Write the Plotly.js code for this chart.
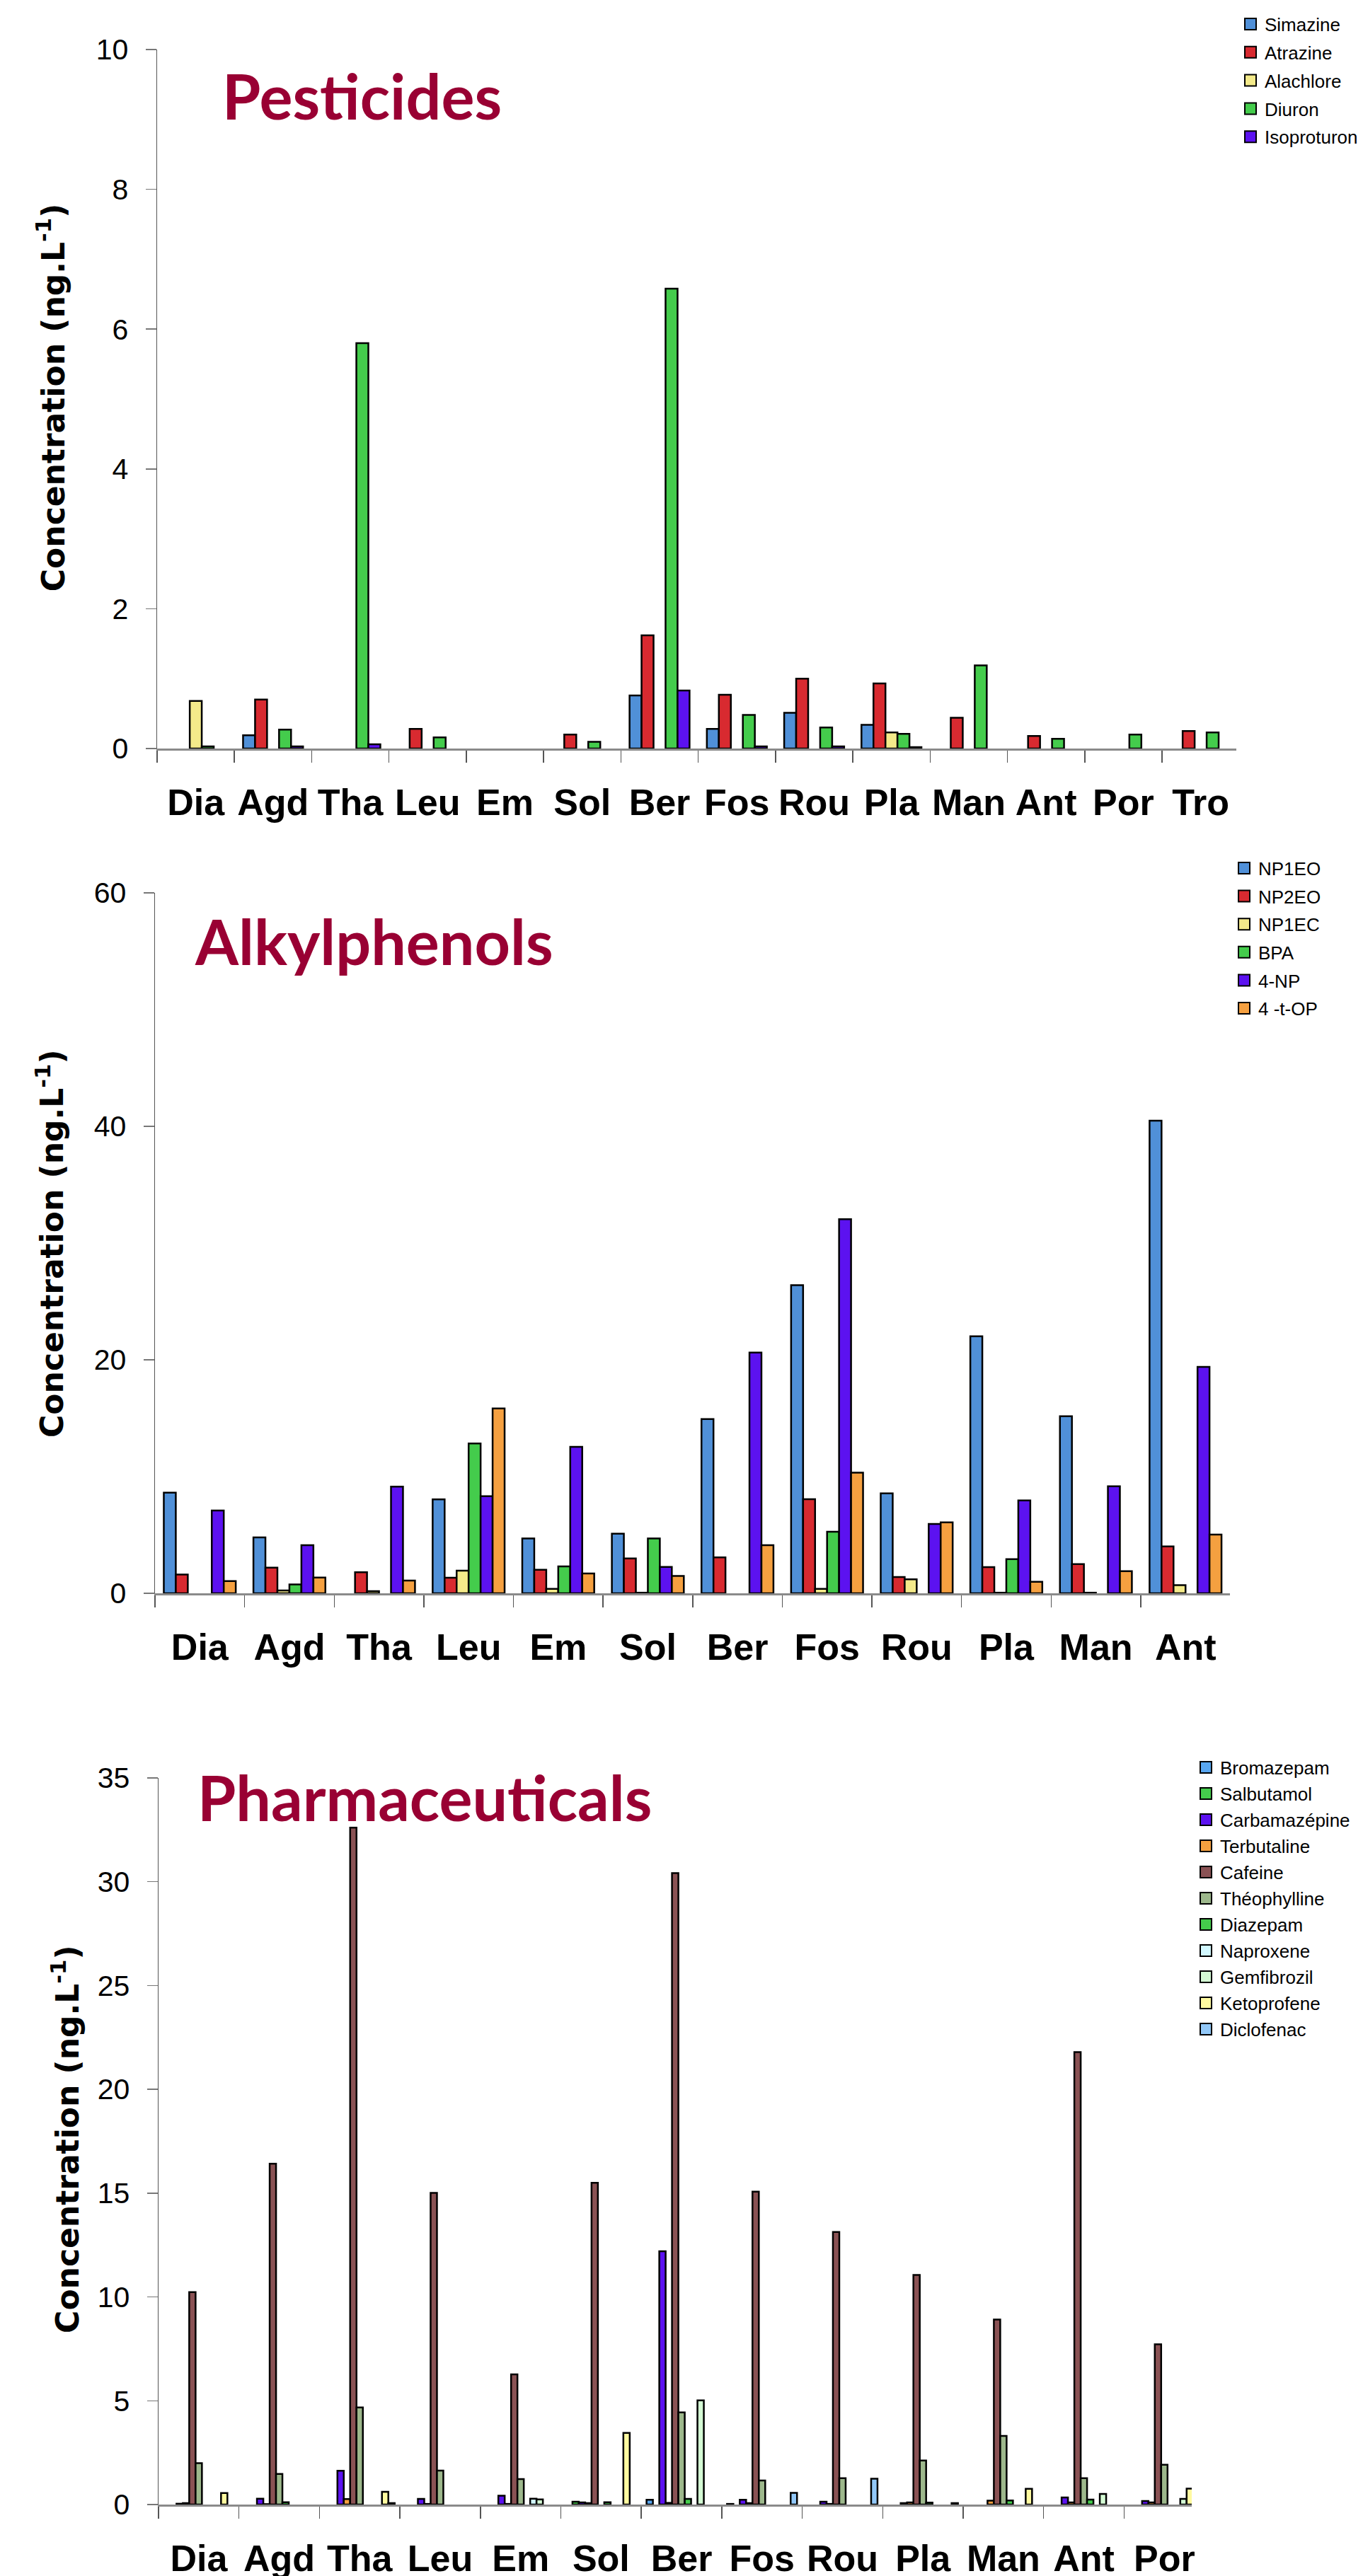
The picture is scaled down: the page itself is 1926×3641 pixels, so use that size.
<!DOCTYPE html>
<html>
<head>
<meta charset="utf-8">
<script src="https://cdn.plot.ly/plotly-3.0.1.min.js"></script>
<style>
  body { margin:0; background:#fff; width:1926px; height:3641px; overflow:hidden; }
  .c { position:absolute; left:0; width:1926px; }
</style>
</head>
<body>
<div id="p1" class="c" style="top:0px;height:1180px"></div>
<div id="p2" class="c" style="top:1180px;height:1200px"></div>
<div id="p3" class="c" style="top:2380px;height:1261px"></div>
<script>
// ---------------- DATA ----------------
// Pesticides
const pestCats = ['Dia','Agd','Tha','Leu','Em','Sol','Ber','Fos','Rou','Pla','Man','Ant','Por','Tro'];
const pestNames = ['Simazine','Atrazine','Alachlore','Diuron','Isoproturon'];
const simazine    = [null, 0.19, null, null, null, null, 0.76, 0.28, 0.51, 0.34, null, null, null, null];
const atrazine    = [null, 0.70, null, 0.28, null, 0.20, 1.62, 0.77, 1.00, 0.93, 0.44, 0.18, null, 0.25];
const alachlore   = [0.68, null, null, null, null, null, null, null, null, 0.23, null, null, null, null];
const diuron      = [0.03, 0.27, 5.80, 0.16, null, 0.095, 6.58, 0.48, 0.30, 0.21, 1.19, 0.14, 0.20, 0.23];
const isoproturon = [null, 0.03, 0.06, null, null, null, 0.83, 0.03, 0.03, 0.02, null, null, null, null];

// Alkylphenols
const alkCats = ['Dia','Agd','Tha','Leu','Em','Sol','Ber','Fos','Rou','Pla','Man','Ant'];
const alkNames = ['NP1EO','NP2EO','NP1EC','BPA','4-NP','4 -t-OP'];
const np1eo = [8.62, 4.79, null, 8.04, 4.70, 5.11, 14.93, 26.4, 8.56, 22.02, 15.17, 40.49];
const np2eo = [1.61, 2.20, 1.80, 1.33, 2.02, 2.99, 3.07, 8.06, 1.39, 2.24, 2.50, 4.02];
const np1ec = [null, 0.24, 0.18, 1.94, 0.38, 0.05, null, 0.38, 1.19, 0.05, 0.05, 0.70];
const bpa   = [null, 0.76, null, 12.83, 2.30, 4.70, null, 5.27, null, 2.93, null, null];
const np4   = [7.09, 4.12, 9.13, 8.32, 12.55, 2.26, 20.62, 32.05, 5.94, 7.96, 9.17, 19.39];
const top4  = [1.05, 1.35, 1.09, 15.84, 1.70, 1.49, 4.12, 10.34, 6.08, 0.99, 1.90, 5.03];

// Pharmaceuticals
const phCats = ['Dia','Agd','Tha','Leu','Em','Sol','Ber','Fos','Rou','Pla','Man','Ant','Por'];
const phNames = ['Bromazepam','Salbutamol','Carbamazépine','Terbutaline','Cafeine','Théophylline','Diazepam','Naproxene','Gemfibrozil','Ketoprofene','Diclofenac'];
const bromazepam    = [null, null, null, null, null, null, 0.23, 0.03, null, null, null, null, null];
const salbutamol    = [null, null, null, null, null, 0.14, null, null, null, null, null, null, null];
const carbamazepine = [0.04, 0.28, 1.63, 0.27, 0.43, 0.10, 12.2, 0.23, 0.14, 0.07, null, 0.34, 0.17];
const terbutaline   = [0.07, 0.02, 0.26, 0.03, 0.03, 0.07, 0.08, 0.07, 0.03, 0.10, 0.19, 0.10, 0.10];
const cafeine       = [10.23, 16.42, 32.61, 15.01, 6.27, 15.50, 30.42, 15.07, 13.13, 11.06, 8.91, 21.79, 7.72];
const theophylline  = [1.99, 1.47, 4.68, 1.64, 1.23, null, 4.44, 1.16, 1.27, 2.12, 3.31, 1.27, 1.92];
const diazepam      = [null, 0.11, null, null, null, 0.11, 0.27, null, null, 0.09, 0.20, 0.24, null];
const naproxene     = [null, null, null, null, 0.28, null, null, null, null, null, null, null, null];
const gemfibrozil   = [null, null, null, null, 0.25, null, 5.02, null, null, null, null, 0.51, 0.27];
const ketoprofene   = [0.55, null, 0.61, null, null, 3.45, null, null, null, null, 0.76, null, 0.77];
const diclofenac    = [null, null, 0.07, null, null, null, null, 0.56, 1.24, 0.07, null, null, null];

// ---------------- STYLE ----------------
const BLUE='#5090d8', RED='#d82a30', YEL='#f4ea8a', GRN='#44cc4c', VIO='#5c12f0', ORA='#f5a040';
const pestColors = [BLUE, RED, YEL, GRN, VIO];
const alkColors  = [BLUE, RED, YEL, GRN, VIO, ORA];
const phColors   = ['#58a6f0', GRN, VIO, ORA, '#8a5254', '#9db88c', GRN, '#d2f8ff', '#d4fad4', '#fffaa0', '#92c8f8'];

const TXT = 'Liberation Sans, Arial, sans-serif';

function makeChart(id, cfg) {
  const pw = 1926 - cfg.ml;
  const ph = cfg.H - cfg.mt - cfg.mb;
  const px2x = p => (p - cfg.ml) / pw;
  const px2y = p => (cfg.H - cfg.mb - p) / ph;
  const traces = [];
  cfg.series.forEach((vals, i) => {
    traces.push({
      type:'bar', x: cfg.cats, y: vals, name: cfg.names[i],
      marker:{color: cfg.colors[i], line:{color:'#000', width:2.5}},
      showlegend:false, hoverinfo:'skip'
    });
  });
  cfg.series.forEach((vals, i) => {
    traces.push({
      type:'scatter', mode:'markers', x:[null], y:[null], name: cfg.names[i],
      legendgroup: cfg.names[i],
      marker:{symbol:'square', size:16, color: cfg.colors[i], line:{color:'#000', width:2}},
      hoverinfo:'skip'
    });
  });
  const layout = {
    width:1926, height:cfg.H,
    margin:{l:cfg.ml, r:0, t:cfg.mt, b:cfg.mb, pad:0},
    paper_bgcolor:'#fff', plot_bgcolor:'#fff',
    barmode:'group', bargap:cfg.bargap, bargroupgap:0,
    showlegend:true,
    legend:{xref:'container', yref:'container', x:cfg.legL/1926, y:1-cfg.legT/cfg.H,
            xanchor:'left', yanchor:'top', bgcolor:'rgba(0,0,0,0)', borderwidth:0,
            traceorder:'grouped', tracegroupgap:cfg.legGap,
            font:{family:TXT, size:26, color:'#000'}},
    xaxis:{type:'category', categoryorder:'array', categoryarray:cfg.cats,
           range:[-0.5, -0.5 + pw/cfg.catW], tickson:'boundaries', tickangle:0,
           ticks:'outside', ticklen:17, tickwidth:1.5, tickcolor:'#555',
           showline:true, linecolor:'#8a8a8a', linewidth:2.5,
           showgrid:false, zeroline:false, automargin:false,
           tickfont:{family:TXT, size:52, color:'#000', weight:'bold'},
           ticklabelstandoff:29},
    yaxis:{range:[0, cfg.yMax], tick0:0, dtick:cfg.dtick,
           ticks:'outside', ticklen:15, tickwidth:1.5, tickcolor:'#777',
           showline:true, linecolor:'#555', linewidth:1.5,
           showgrid:false, zeroline:false, automargin:false,
           tickfont:{family:TXT, size:41, color:'#000'},
           ticklabelstandoff:16},
    annotations:[
      {xref:'paper', yref:'paper', x:px2x(cfg.titleX), y:px2y(cfg.titleY),
       xanchor:'center', yanchor:'middle', showarrow:false, text:cfg.title,
       font:{family:'Lato, DejaVu Sans, sans-serif', size:88, color:'#990033', weight:700}},
      {xref:'paper', yref:'paper', x:px2x(cfg.ytX), y:px2y(cfg.ytY),
       xanchor:'center', yanchor:'middle', showarrow:false, textangle:-90,
       text:'Concentration (ng.L<sup>-1</sup>)',
       font:{family:'DejaVu Sans, Verdana, sans-serif', size:44, color:'#000', weight:'bold'}}
    ]
  };
  Plotly.newPlot(id, traces, layout, {staticPlot:true, displayModeBar:false});
}

makeChart('p1', {
  H:1180, ml:222, mt:70, mb:122, catW:122.05, yMax:10, dtick:2, bargap:0.224,
  cats:pestCats, names:pestNames, colors:pestColors,
  series:[simazine, atrazine, alachlore, diuron, isoproturon],
  legL:1747, legT:10.6, legGap:3,
  title:'Pesticides', titleX:545, titleY:135, ytX:53.5, ytY:562
});
makeChart('p2', {
  H:1200, ml:219, mt:82, mb:128, catW:142.3, yMax:60, dtick:20, bargap:0.197,
  cats:alkCats, names:alkNames, colors:alkColors,
  series:[np1eo, np2eo, np1ec, bpa, np4, top4],
  legL:1738, legT:23.6, legGap:2.8,
  title:'Alkylphenols', titleX:566.5, titleY:150, ytX:51.5, ytY:577
});
makeChart('p3', {
  H:1261, ml:224, mt:133, mb:101, catW:132.55, yMax:35, dtick:5, bargap:0.13,
  cats:phCats, names:phNames, colors:phColors,
  series:[bromazepam, salbutamol, carbamazepine, terbutaline, cafeine, theophylline, diazepam, naproxene, gemfibrozil, ketoprofene, diclofenac],
  legL:1684, legT:94.6, legGap:0.2,
  title:'Pharmaceuticals', titleX:662, titleY:159.7, ytX:70, ytY:643
});
</script>
</body>
</html>
